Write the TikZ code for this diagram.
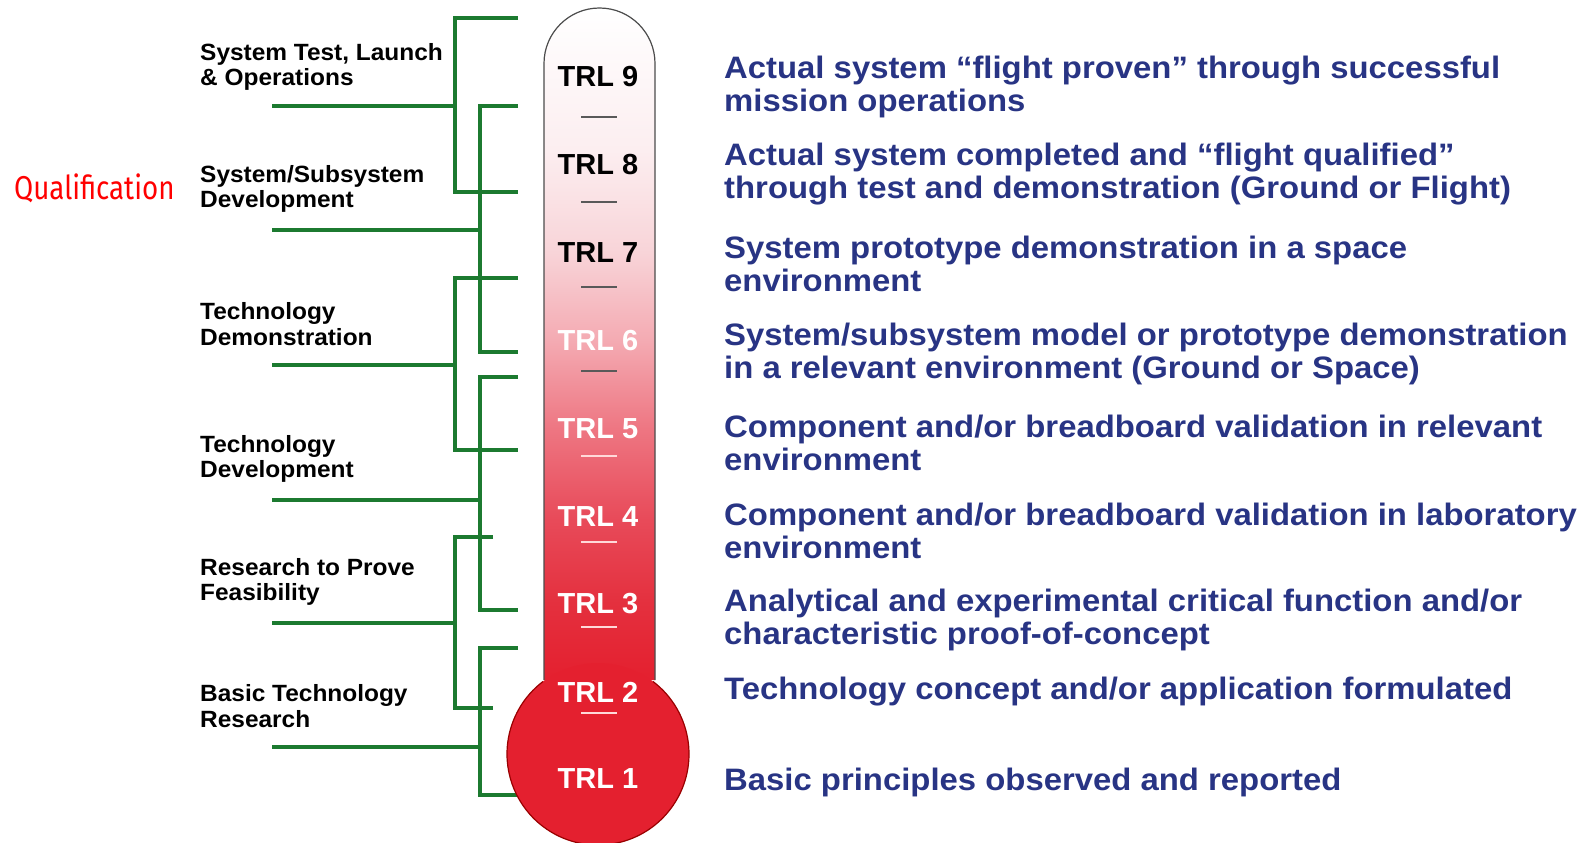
\documentclass[tikz,border=0pt]{standalone}
\usepackage{fontspec}
\setmainfont{Liberation Sans}
\newfontfamily\qualfont[FakeStretch=0.84]{Fira Sans}
\newfontfamily\descfont[FakeStretch=1.06]{Liberation Sans}
\newfontfamily\phasefont[FakeStretch=1.04]{Liberation Sans}

\definecolor{trlgreen}{RGB}{28,122,48}
\definecolor{trlblue}{RGB}{40,52,132}
\definecolor{trlred}{RGB}{228,32,47}

% tube colour, white at the top down to red at the bulb
\pgfdeclareverticalshading{tubeshade}{100bp}{
	rgb(0bp)=(0.894,0.125,0.184); rgb(25bp)=(0.894,0.125,0.184);
	rgb(30.7bp)=(0.894,0.188,0.243); rgb(37.1bp)=(0.910,0.294,0.353);
	rgb(43.7bp)=(0.933,0.463,0.510); rgb(50.2bp)=(0.957,0.667,0.698);
	rgb(56.8bp)=(0.973,0.831,0.847); rgb(64.4bp)=(0.988,0.933,0.941);
	rgb(75bp)=(1,1,1); rgb(100bp)=(1,1,1)}

\begin{document}
\begin{tikzpicture}[x=1pt,y=-1pt,
	bracket/.style	=	{trlgreen,line width=4.2pt},
	phase/.style	=	{anchor=west,align=left,inner sep=0pt,
						font=\phasefont\bfseries\fontsize{23.5}{25.5}\selectfont},
	level/.style	=	{inner sep=0pt,font=\bfseries\fontsize{29}{30}\selectfont},
	desc/.style		=	{anchor=west,align=left,inner sep=0pt,text=trlblue,
						font=\descfont\bfseries\fontsize{31}{33}\selectfont},
	scalemark/.style=	{line width=2pt}]

	\useasboundingbox (0,0) rectangle (1585,843);

	% brackets joining the phases to the levels
	\foreach \x/\top/\bot/\mid/\tip in {455/18/192/106/518, 480/106/352/230/518,
			455/278/450/365/518, 480/377/610/500/518, 455/537/708/623/493, 480/648/795/747/518}
	{
		\draw[bracket] (\tip,\top) -- (\x,\top) -- (\x,\bot) -- (\tip,\bot);
		\draw[bracket] (272,\mid) -- (\x,\mid);
	}

	% thermometer
	\coordinate (tube left) at (544,680);
	\coordinate (tube right) at (655,680);
	\coordinate (bulb) at (598,754);
	\shade[shading=tubeshade] (tube left) -- (544,63.5) arc (180:360:55.5) -- (tube right) -- cycle;
	\draw[gray!60!black,line width=1.2pt] (tube left) -- (544,63.5) arc (180:360:55.5) -- (tube right);
	\fill[trlred] (bulb) circle (91);
	\draw[red!60!black,line width=1.2pt] (bulb) ++(-52.8:91) arc (-52.8:232.8:91);

	\foreach \y in {117,202,287,371}
		\draw[scalemark,black!65] (581,\y) -- (617,\y);
	\foreach \y in {456,542,627,713}
		\draw[scalemark,white!85!red] (581,\y) -- (617,\y);

	\foreach \n/\y in {9/77,8/165,7/253}
		\node[level] (trl\n) at (598,\y) {TRL \n};
	\foreach \n/\y in {6/341,5/429,4/517,3/604,2/692,1/779}
		\node[level,text=white] (trl\n) at (598,\y) {TRL \n};

	% phases
	\node[anchor=west,inner sep=0pt,text=red,font=\qualfont\fontsize{33}{33}\selectfont] (qual) at (14,188) {Qualification};
	\node[phase] (p1) at (200,67) {System Test, Launch\\\& Operations};
	\node[phase] (p2) at (200,189) {System/Subsystem\\Development};
	\node[phase] (p3) at (200,324) {Technology\\Demonstration};
	\node[phase] (p4) at (200,459) {Technology\\Development};
	\node[phase] (p5) at (200,582) {Research to Prove\\Feasibility};
	\node[phase] (p6) at (200,706) {Basic Technology\\Research};

	% level descriptions
	\node[desc] (d9) at (724,86.5) {Actual system “flight proven” through successful\\mission operations};
	\node[desc] (d8) at (724,174.5) {Actual system completed and “flight qualified”\\through test and demonstration (Ground or Flight)};
	\node[desc] (d7) at (724,263.5) {System prototype demonstration in a space\\environment};
	\node[desc] (d6) at (724,353.5) {System/subsystem model or prototype demonstration\\in a relevant environment (Ground or Space)};
	\node[desc] (d5) at (724,442.5) {Component and/or breadboard validation in relevant\\environment};
	\node[desc] (d4) at (724,531) {Component and/or breadboard validation in laboratory\\environment};
	\node[desc] (d3) at (724,620) {Analytical and experimental critical function and/or\\characteristic proof-of-concept};
	\node[desc] (d2) at (724,692) {Technology concept and/or application formulated};
	\node[desc] (d1) at (724,782) {Basic principles observed and reported};
\end{tikzpicture}
\end{document}
